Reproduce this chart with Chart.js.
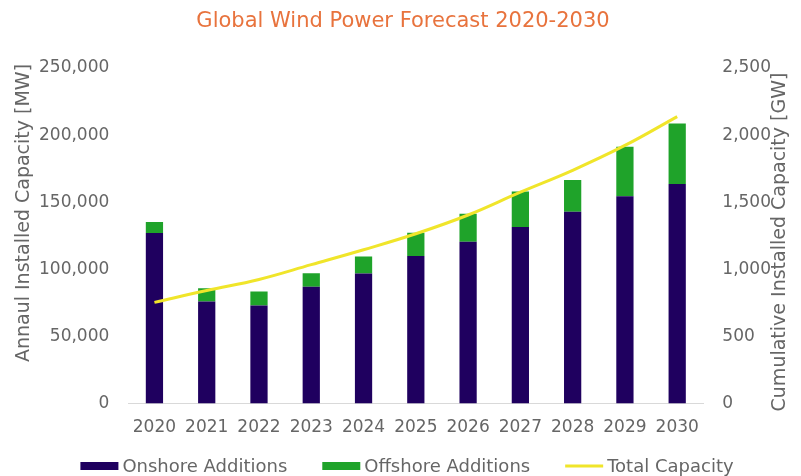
<!DOCTYPE html>
<html>
<head>
<meta charset="utf-8">
<script src="https://cdn.jsdelivr.net/npm/chart.js@4.4.1/dist/chart.umd.min.js"></script>
<style>
  html, body { margin: 0; padding: 0; background: #ffffff; }
  #wrap { width: 801px; height: 476px; }
</style>
</head>
<body>
<div id="wrap"><canvas id="c" width="801" height="476"></canvas></div>
<script>
// ---- data ----
const years = ['2020','2021','2022','2023','2024','2025','2026','2027','2028','2029','2030'];
const onshore = [127000, 76000, 73000, 87000, 97000, 110000, 120500, 131500, 143000, 154500, 163500];
const offshore = [8300, 10000, 10600, 10100, 12500, 17200, 21000, 26500, 23600, 36800, 45100];
const totalCapacity = [754, 843, 925, 1035, 1146, 1265, 1405, 1575, 1738, 1923, 2138];
const leftTicks = ['0', '50,000', '100,000', '150,000', '200,000', '250,000'];
const rightTicks = ['0', '500', '1,000', '1,500', '2,000', '2,500'];
const seriesNames = ['Onshore Additions', 'Offshore Additions', 'Total Capacity'];
const chartTitle = 'Global Wind Power Forecast 2020-2030';
const leftTitle = 'Annaul Installed Capacity [MW]';
const rightTitle = 'Cumulative Installed Capacity [GW]';

// ---- styles ----
const FONT = 'DejaVu Sans';
const TXT = '#666666';
const NAVY = '#1f005f';
const GREEN = '#1fa32a';
const YELLOW = '#f0e52a';
const ORANGE = '#e8733d';

const extras = {
  id: 'extras',
  afterDraw(chart) {
    const ctx = chart.ctx;
    ctx.save();
    // title
    ctx.fillStyle = ORANGE;
    ctx.font = '21px "' + FONT + '"';
    ctx.textAlign = 'center';
    ctx.textBaseline = 'middle';
    ctx.fillText(chartTitle, 403, 22);
    // axis titles
    ctx.fillStyle = TXT;
    ctx.font = '19px "' + FONT + '"';
    ctx.textBaseline = 'alphabetic';
    ctx.save();
    ctx.translate(29, 213);
    ctx.rotate(-Math.PI / 2);
    ctx.fillText(leftTitle, 0, 0);
    ctx.restore();
    ctx.save();
    ctx.translate(785, 242);
    ctx.rotate(-Math.PI / 2);
    ctx.fillText(rightTitle, 0, 0);
    ctx.restore();
    // legend
    ctx.textBaseline = 'middle';
    const colors = [NAVY, GREEN, YELLOW];
    const boxW = 38, gapT = 4, gapI = 35;
    ctx.font = '18px "' + FONT + '"';
    const widths = seriesNames.map(s => ctx.measureText(s).width);
    let total = 0;
    widths.forEach((w, i) => { total += boxW + gapT + w + (i < widths.length - 1 ? gapI : 0); });
    let x = 407 - total / 2;
    const y = 466;
    ctx.textAlign = 'left';
    seriesNames.forEach((s, i) => {
      if (i < 2) {
        ctx.fillStyle = colors[i];
        ctx.fillRect(x, y - 4, boxW, 8);
      } else {
        ctx.strokeStyle = colors[i];
        ctx.lineWidth = 3;
        ctx.beginPath();
        ctx.moveTo(x, y);
        ctx.lineTo(x + boxW, y);
        ctx.stroke();
      }
      ctx.fillStyle = TXT;
      ctx.fillText(s, x + boxW + gapT, y + 1);
      x += boxW + gapT + widths[i] + gapI;
    });
    ctx.restore();
  }
};

new Chart(document.getElementById('c'), {
  data: {
    labels: years,
    datasets: [
      { type: 'bar', label: seriesNames[0], data: onshore, backgroundColor: NAVY, yAxisID: 'y', order: 1, stack: 's' },
      { type: 'bar', label: seriesNames[1], data: offshore, backgroundColor: GREEN, yAxisID: 'y', order: 1, stack: 's' },
      { type: 'line', label: seriesNames[2], data: totalCapacity, borderColor: YELLOW, backgroundColor: YELLOW,
        borderWidth: 3, pointRadius: 0, tension: 0.4, yAxisID: 'y1', order: 0 }
    ]
  },
  options: {
    responsive: false,
    animation: false,
    devicePixelRatio: 1,
    layout: { padding: { left: 20, right: 11, top: 68, bottom: 24 } },
    datasets: { bar: { categoryPercentage: 1, barPercentage: 0.33 } },
    plugins: { legend: { display: false }, title: { display: false }, tooltip: { enabled: false } },
    scales: {
      x: {
        stacked: true,
        grid: { display: false, drawTicks: false },
        border: { display: true, color: '#d9d9d9', width: 1 },
        ticks: { color: TXT, font: { family: FONT, size: 17 }, padding: 14, maxRotation: 0 }
      },
      y: {
        stacked: true, position: 'left', min: 0, max: 250000,
        grid: { display: false, drawTicks: false },
        border: { display: false },
        ticks: { stepSize: 50000, color: TXT, font: { family: FONT, size: 17 }, padding: 19,
                 callback: (v, i) => leftTicks[i] }
      },
      y1: {
        position: 'right', min: 0, max: 2500,
        grid: { display: false, drawTicks: false },
        border: { display: false },
        ticks: { stepSize: 500, color: TXT, font: { family: FONT, size: 17 }, padding: 19,
                 callback: (v, i) => rightTicks[i] }
      }
    }
  },
  plugins: [extras]
});
</script>
</body>
</html>
